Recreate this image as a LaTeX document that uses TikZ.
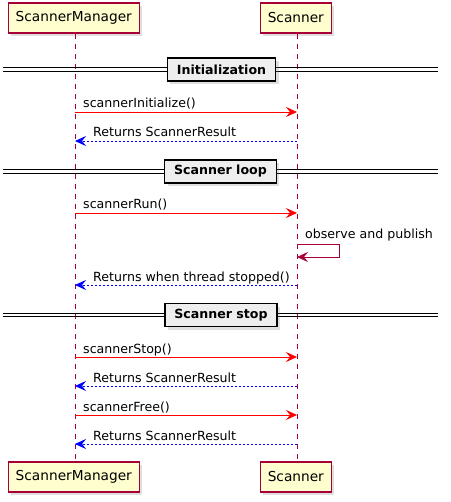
\documentclass[tikz,border=0pt]{standalone}
\usepackage{fontspec}
\setmainfont{DejaVu Sans}
\usetikzlibrary{arrows.meta,shadows}
\definecolor{pfill}{HTML}{FEFECE}
\definecolor{pborder}{HTML}{A80036}
\definecolor{divfill}{HTML}{EEEEEE}
\tikzset{
  part/.style={draw=pborder, fill=pfill, line width=1.2pt, minimum height=30pt, inner xsep=7.5pt,
    font=\fontsize{13.7}{16}\selectfont, drop shadow={opacity=0.25, shadow xshift=3pt, shadow yshift=-3pt}},
  life/.style={draw=pborder, line width=0.8pt, dash pattern=on 5pt off 5pt},
  divbox/.style={draw=black, fill=divfill, line width=1.6pt, inner xsep=9.5pt, minimum height=23pt,
    font=\bfseries\fontsize{12.6}{15}\selectfont, drop shadow={opacity=0.25, shadow xshift=3pt, shadow yshift=-3pt}},
  divline/.style={draw=black, line width=1pt},
  tip/.style={-{Stealth[length=11pt, width=10pt, inset=4pt]}},
  call/.style={tip, draw=red, line width=0.9pt},
  ret/.style={tip, draw=blue, line width=0.9pt, dash pattern=on 2pt off 2pt},
  selfmsg/.style={tip, draw=pborder, line width=0.9pt},
  lbl/.style={font=\fontsize{12.6}{15}\selectfont, inner sep=0pt, anchor=base west},
}
\begin{document}
\begin{tikzpicture}[x=1pt,y=-1pt]
\useasboundingbox (0,0) rectangle (450,502);
% participants
\node[part] (smT) at (73.8,18) {ScannerManager};
\node[part] (scT) at (295.8,18) {Scanner};
\node[part] (smB) at (73.8,477) {ScannerManager};
\node[part] (scB) at (295.8,477) {Scanner};
\draw[life] (smT.south -| 75,0) -- (smB.north -| 75,0);
\draw[life] (scT.south -| 297,0) -- (scB.north -| 297,0);
% named lifeline coordinates
\foreach \n/\y in {a/112,b/141,c/213,d/285,e/357,f/386,g/415,h/444}{
  \coordinate (L\n) at (75,\y);
  \coordinate (R\n) at (297,\y);
}
% dividers
\foreach \n/\y/\t/\cx in {i/69.5/Initialization/221.5, l/171.5/Scanner loop/220.5, s/315/Scanner stop/221}{
  \coordinate (dl\n) at (3,\y);
  \coordinate (dr\n) at (438,\y);
  \draw[divline] ([yshift=-1.6pt]dl\n) -- ([yshift=-1.6pt]dr\n);
  \draw[divline] ([yshift=1.6pt]dl\n) -- ([yshift=1.6pt]dr\n);
  \node[divbox] (div\n) at (\cx,\y) {\t};
}
% messages
\draw[call] (La) -- (Ra);
\node[lbl] (ta) at (83,108) {scannerInitialize()};
\draw[ret] (Rb) -- (Lb);
\node[lbl] (tb) at (93,137) {Returns ScannerResult};
\draw[call] (Lc) -- (Rc);
\node[lbl] (tc) at (83,209) {scannerRun()};
\coordinate (s1) at (297,244);
\coordinate (s2) at (339,244);
\coordinate (s3) at (339,257);
\coordinate (s4) at (297,257);
\draw[selfmsg] (s1) -- (s2) -- (s3) -- (s4);
\node[lbl] (ts) at (305,238) {observe and publish};
\draw[ret] (Rd) -- (Ld);
\node[lbl] (td) at (93,281) {Returns when thread stopped()};
\draw[call] (Le) -- (Re);
\node[lbl] (te) at (83,353) {scannerStop()};
\draw[ret] (Rf) -- (Lf);
\node[lbl] (tf) at (93,382) {Returns ScannerResult};
\draw[call] (Lg) -- (Rg);
\node[lbl] (tg) at (83,411) {scannerFree()};
\draw[ret] (Rh) -- (Lh);
\node[lbl] (th) at (93,440) {Returns ScannerResult};
\end{tikzpicture}
\end{document}
